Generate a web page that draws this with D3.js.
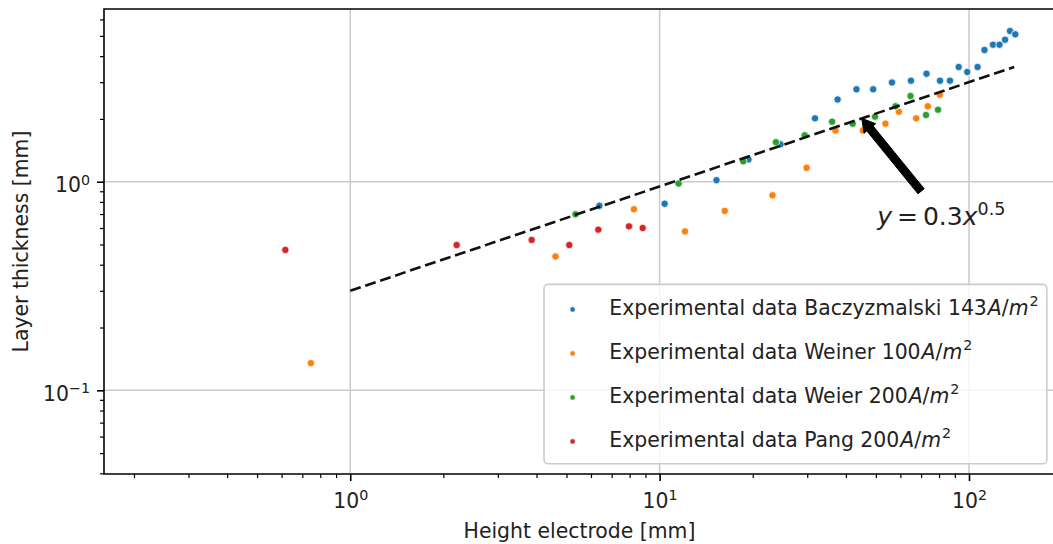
<!DOCTYPE html>
<html>
<head>
<meta charset="utf-8">
<script src="https://cdn.jsdelivr.net/npm/d3@7"></script>
<style>
  html, body { margin: 0; padding: 0; background: #fff; }
  svg { display: block; font-family: "DejaVu Sans", sans-serif; }
</style>
</head>
<body>
<svg id="chart" width="1053" height="544"></svg>
<script>
// Layer thickness against electrode height, both axes logarithmic.

// --- data -------------------------------------------------------------
const baczyzmalskiX = [6.39, 10.38, 15.27, 19.38, 24.58, 31.78, 37.61, 43.28, 49.01, 56.37, 64.93, 72.89,
                       80.6, 86.8, 92.6, 98.7, 106.6, 112.2, 119.6, 125.5, 130.8, 135.7, 141.1];
const baczyzmalskiY = [0.767, 0.784, 1.017, 1.278, 1.511, 2.013, 2.478, 2.773, 2.773, 2.989, 3.050, 3.294,
                       3.050, 3.050, 3.547, 3.357, 3.547, 4.279, 4.537, 4.537, 4.794, 5.277, 5.089];

const weinerX = [0.746, 4.607, 8.26, 12.08, 16.24, 23.17, 29.86, 37.03, 45.37, 53.68, 59.31, 67.5, 73.6, 80.5];
const weinerY = [0.135, 0.438, 0.738, 0.578, 0.725, 0.861, 1.166, 1.760, 1.760, 1.897, 2.165, 2.013, 2.299, 2.613];

const weierX = [5.345, 11.52, 18.64, 23.77, 29.44, 36.10, 42.08, 49.67, 57.86, 64.7, 72.6, 79.4];
const weierY = [0.698, 0.980, 1.252, 1.547, 1.669, 1.940, 1.897, 2.049, 2.299, 2.576, 2.088, 2.214];

const pangX = [0.617, 2.208, 3.859, 5.105, 6.335, 7.96, 8.815];
const pangY = [0.471, 0.497, 0.526, 0.497, 0.589, 0.611, 0.600];

const seriesNames = ["Baczyzmalski 143", "Weiner 100", "Weier 200", "Pang 200"];
const seriesColors = ["#1f77b4", "#ff7f0e", "#2ca02c", "#d62728"];

// power-law fit y = a * x^b, drawn over this x range
const fitCoef = 0.3;
const fitExp = 0.5;
const fitRange = [1, 140];

// annotation: arrow tip on the fit, tail and text position (data units)
const arrowTip = [45, 0.3 * Math.sqrt(45)];
const arrowTail = [70, 0.9];
const annotationAt = [50.5, 0.62];

// axes
const xDomain = [0.16, 192.5];
const yDomain = [0.0397, 6.73];
const xMajorTicks = [1, 10, 100];
const yMajorTicks = [0.1, 1];
const xTickExponents = ["0", "1", "2"];
const yTickExponents = ["\u22121", "0"];
const xLabel = "Height electrode [mm]";
const yLabel = "Layer thickness [mm]";

// --- layout -----------------------------------------------------------
const W = 1053, H = 544;
const plot = { left: 104, top: 9, right: 1057, bottom: 474 };
const fs = 20.4;

const svg = d3.select("#chart");

const x = d3.scaleLog().domain(xDomain).range([plot.left, plot.right]);
const y = d3.scaleLog().domain(yDomain).range([plot.bottom, plot.top]);

// grid at the major decades
const grid = svg.append("g").attr("stroke", "#cccccc").attr("stroke-width", 1.6);
grid.selectAll("line.gx").data(xMajorTicks).join("line")
  .attr("x1", d => x(d)).attr("x2", d => x(d))
  .attr("y1", plot.top).attr("y2", plot.bottom);
grid.selectAll("line.gy").data(yMajorTicks).join("line")
  .attr("x1", plot.left).attr("x2", plot.right)
  .attr("y1", d => y(d)).attr("y2", d => y(d));

// scatter points
const series = [
  [baczyzmalskiX, baczyzmalskiY],
  [weinerX, weinerY],
  [weierX, weierY],
  [pangX, pangY]
];
const dots = svg.append("g");
series.forEach(([xs, ys], i) => {
  dots.append("g")
    .selectAll("circle")
    .data(xs.map((v, k) => [v, ys[k]]))
    .join("circle")
    .attr("cx", d => x(d[0]))
    .attr("cy", d => y(d[1]))
    .attr("r", 3.7)
    .attr("fill", seriesColors[i])
    .attr("stroke", "#fff")
    .attr("stroke-width", 0.8);
});

// fitted power law (straight on log-log axes)
const fitPts = fitRange.map(v => [v, fitCoef * Math.pow(v, fitExp)]);
svg.append("path")
  .datum(fitPts)
  .attr("d", d3.line().x(d => x(d[0])).y(d => y(d[1])))
  .attr("fill", "none")
  .attr("stroke", "#111")
  .attr("stroke-width", 2.6)
  .attr("stroke-dasharray", "11,4.8");

// axes: major ticks, minor ticks, spines
const xMinor = x.ticks().filter(v => !xMajorTicks.some(m => Math.abs(m - v) < 1e-9 * m));
const yMinor = y.ticks().filter(v => !yMajorTicks.some(m => Math.abs(m - v) < 1e-9 * m));

function styleAxis(g, width) {
  g.select(".domain").remove();
  g.selectAll(".tick line").attr("stroke", "#000").attr("stroke-width", width);
}

svg.append("g").attr("transform", `translate(0,${plot.bottom})`)
  .call(d3.axisBottom(x).tickValues(xMinor).tickSize(4).tickFormat(""))
  .call(g => styleAxis(g, 1.2));
svg.append("g").attr("transform", `translate(${plot.left},0)`)
  .call(d3.axisLeft(y).tickValues(yMinor).tickSize(4).tickFormat(""))
  .call(g => styleAxis(g, 1.2));

const xAxisG = svg.append("g").attr("transform", `translate(0,${plot.bottom})`)
  .call(d3.axisBottom(x).tickValues(xMajorTicks).tickSize(7).tickPadding(7).tickFormat(""))
  .call(g => styleAxis(g, 1.6));
const yAxisG = svg.append("g").attr("transform", `translate(${plot.left},0)`)
  .call(d3.axisLeft(y).tickValues(yMajorTicks).tickSize(7).tickPadding(7).tickFormat(""))
  .call(g => styleAxis(g, 1.6));

// "10" with a raised exponent
function powerLabel(textSel, exp) {
  textSel.text(null);
  textSel.append("tspan").text("10");
  textSel.append("tspan").attr("font-size", fs * 0.7).attr("dy", -7.6).text(exp);
}

xAxisG.selectAll(".tick text").each(function (d, i) {
  const t = d3.select(this)
    .attr("y", null).attr("dy", null)
    .attr("transform", "translate(0,34)")
    .attr("fill", "#222")
    .attr("font-size", fs)
    .attr("font-family", "DejaVu Sans")
    .attr("text-anchor", "middle");
  powerLabel(t, xTickExponents[i]);
});
yAxisG.selectAll(".tick text").each(function (d, i) {
  const t = d3.select(this)
    .attr("x", -14).attr("dy", null)
    .attr("transform", "translate(0,10)")
    .attr("fill", "#222")
    .attr("font-size", fs)
    .attr("font-family", "DejaVu Sans")
    .attr("text-anchor", "end");
  powerLabel(t, yTickExponents[i]);
});

// spines (the right one falls past the canvas edge)
const spines = svg.append("g").attr("stroke", "#000").attr("stroke-width", 1.6).attr("fill", "none");
spines.append("path").attr("d",
  `M${plot.right},${plot.bottom}H${plot.left}V${plot.top}H${plot.right}V${plot.bottom}`);

// axis titles
svg.append("text")
  .attr("x", (plot.left + plot.right) / 2 - 1)
  .attr("y", 537.5)
  .attr("text-anchor", "middle")
  .attr("font-size", fs)
  .attr("fill", "#222")
  .text(xLabel);
svg.append("text")
  .attr("transform", `translate(28,${(plot.top + plot.bottom) / 2}) rotate(-90)`)
  .attr("text-anchor", "middle")
  .attr("font-size", fs)
  .attr("fill", "#222")
  .text(yLabel);

// annotation arrow
(function drawArrow() {
  const tip = [x(arrowTip[0]), y(arrowTip[1])];
  const tail = [x(arrowTail[0]), y(arrowTail[1])];
  const dx = tip[0] - tail[0], dy = tip[1] - tail[1];
  const len = Math.hypot(dx, dy);
  const ux = dx / len, uy = dy / len;
  const nx = -uy, ny = ux;
  const w = 8, hw = 15, hl = 13;
  const hx = tip[0] - ux * hl, hy = tip[1] - uy * hl;
  const pts = [
    [tail[0] + nx * w / 2, tail[1] + ny * w / 2],
    [hx + nx * w / 2, hy + ny * w / 2],
    [hx + nx * hw / 2, hy + ny * hw / 2],
    tip,
    [hx - nx * hw / 2, hy - ny * hw / 2],
    [hx - nx * w / 2, hy - ny * w / 2],
    [tail[0] - nx * w / 2, tail[1] - ny * w / 2]
  ];
  svg.append("polygon")
    .attr("points", pts.map(p => p.join(",")).join(" "))
    .attr("fill", "#000")
    .attr("stroke", "#000")
    .attr("stroke-width", 1);
})();

// annotation text: y = 0.3x^0.5
(function drawFormula() {
  const afs = 25;
  const t = svg.append("text")
    .attr("x", x(annotationAt[0]))
    .attr("y", y(annotationAt[1]))
    .attr("font-size", afs)
    .attr("fill", "#222");
  t.append("tspan").attr("font-style", "italic").text("y");
  t.append("tspan").text("\u2009=\u2009" + fitCoef);
  t.append("tspan").attr("font-style", "italic").text("x");
  t.append("tspan").attr("font-size", afs * 0.7).attr("dy", -10).text(String(fitExp));
})();

// legend, anchored to the lower right corner of the axes
(function drawLegend() {
  const pad = 0.4 * fs, handleLen = 2 * fs, textPad = 0.8 * fs, axPad = 0.5 * fs;
  const rowStep = 44, firstRow = 25, boxH = 179.4;
  const lg = svg.append("g");
  const box = lg.append("rect")
    .attr("fill", "#fff").attr("fill-opacity", 0.8)
    .attr("stroke", "#cccccc").attr("stroke-width", 1.6)
    .attr("rx", 4).attr("ry", 4);
  const rows = lg.append("g");
  let maxW = 0;
  const texts = seriesNames.map((name, i) => {
    const t = rows.append("text").attr("font-size", fs).attr("fill", "#222");
    t.append("tspan").text("Experimental data " + name);
    t.append("tspan").attr("font-style", "italic").attr("dx", 1).text("A");
    t.append("tspan").text("/");
    t.append("tspan").attr("font-style", "italic").text("m");
    t.append("tspan").attr("font-size", fs * 0.7).attr("dx", 1).attr("dy", -8.5).text("2");
    maxW = Math.max(maxW, t.node().getComputedTextLength() + 2);
    return t;
  });
  const boxW = pad + handleLen + textPad + maxW + pad;
  const bx = plot.right - axPad - boxW;
  const by = plot.bottom - axPad - boxH;
  box.attr("x", bx).attr("y", by).attr("width", boxW).attr("height", boxH);
  texts.forEach((t, i) => {
    const cy = by + firstRow + i * rowStep;
    t.attr("x", bx + pad + handleLen + textPad).attr("y", cy + 5.5);
    rows.append("circle")
      .attr("cx", bx + pad + handleLen / 2)
      .attr("cy", cy)
      .attr("r", 2.6)
      .attr("fill", seriesColors[i])
      .attr("stroke", "#fff")
      .attr("stroke-width", 0.5);
  });
})();
</script>
</body>
</html>
